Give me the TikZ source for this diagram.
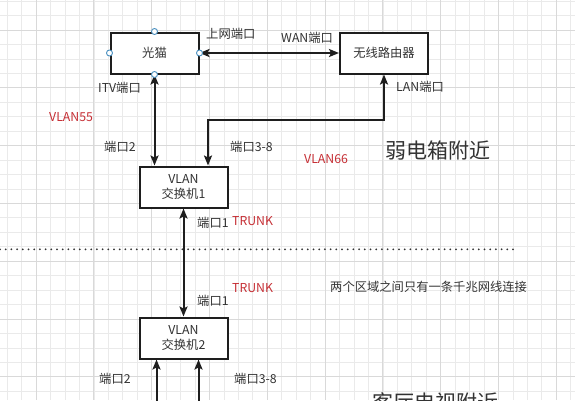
\documentclass[tikz,border=0pt]{standalone}
\usepackage{fontspec}
\setmainfont{Noto Sans CJK SC}
\usetikzlibrary{arrows.meta}
\definecolor{txt}{HTML}{333333}
\definecolor{redt}{HTML}{C62F35}
\definecolor{ln}{HTML}{1E1E1E}
\definecolor{gridminor}{HTML}{EAEAEA}
\definecolor{gridmajor}{HTML}{D9D9D9}
\definecolor{handlec}{HTML}{4A90C0}
\begin{document}
\begin{tikzpicture}[x=1pt,y=-1pt,
  box/.style={draw=ln, line width=2pt, fill=white, minimum width=88pt, minimum height=41pt,
    inner sep=0pt, font=\fontsize{12.3}{15}\selectfont, text=txt, align=center},
  lbl/.style={anchor=west, inner sep=0pt, font=\fontsize{12.3}{14}\selectfont, text=txt},
  rlbl/.style={lbl, text=redt},
  big/.style={anchor=west, inner sep=0pt, font=\fontsize{21}{24}\selectfont, text=txt},
  conn/.style={draw=ln, line width=2pt, arrows={-Stealth[length=10pt,width=8pt,inset=2pt]}},
  biconn/.style={draw=ln, line width=2pt, arrows={Stealth[length=10pt,width=8pt,inset=2pt]-Stealth[length=10pt,width=8pt,inset=2pt]}},
  hdl/.style={draw=handlec, fill=white, line width=0.9pt},
  minorgrid/.style={draw=gridminor, line width=0.6pt},
  majorgrid/.style={draw=gridmajor, line width=0.7pt},
  dotline/.style={draw=txt, line width=2pt, dash pattern=on 0pt off 5.7pt, line cap=round}
]
\useasboundingbox (0,0) rectangle (575,400);
\clip (0,0) rectangle (575,400);
\fill[white] (0,0) rectangle (575,400);
% grid
\foreach \i in {0,...,39} { \draw[minorgrid] ({7.1+\i*14.45},0) -- ({7.1+\i*14.45},400); }
\foreach \i in {0,...,27} { \draw[minorgrid] (0,{1.0+\i*14.45}) -- (575,{1.0+\i*14.45}); }
\foreach \i in {0,...,9} { \draw[majorgrid] ({36+\i*57.8},0) -- ({36+\i*57.8},400); }
\foreach \i in {0,...,6} { \draw[majorgrid] (0,{29.9+\i*57.8}) -- (575,{29.9+\i*57.8}); }

% boxes
\node[box] (gm) at (154.5,53) {光猫};
\node[box] (rt) at (384,53) {无线路由器};
\node[box] (sw1) at (183.5,187) {VLAN\\交换机1};
\node[box] (sw2) at (183.5,338) {VLAN\\交换机2};

% labels
\node[lbl] (t1) at (206,34) {上网端口};
\node[lbl] (t2) at (281,38) {WAN端口};
\node[lbl] (t3) at (98,88) {ITV端口};
\node[rlbl] (t4) at (49,117) {VLAN55};
\node[lbl] (t5) at (104,147) {端口2};
\node[lbl] (t6) at (230,147) {端口3-8};
\node[lbl] (t7) at (396,87) {LAN端口};
\node[big] (t8) at (385,150) {弱电箱附近};
\node[rlbl] (t9) at (304,159) {VLAN66};
\node[lbl] (t10) at (197,223) {端口1};
\node[rlbl] (t11) at (232,221) {TRUNK};
\node[rlbl] (t12) at (232,288) {TRUNK};
\node[lbl] (t13) at (197,301) {端口1};
\node[lbl] (t14) at (330,287) {两个区域之间只有一条千兆网线连接};
\node[lbl] (t15) at (99,379) {端口2};
\node[lbl] (t16) at (234,379) {端口3-8};
\node[big] (t17) at (372,402) {客厅电视附近};

% dotted separator
\coordinate (d1) at (0,249.3);
\coordinate (d2) at (517,249.3);
\draw[dotline] (d1) -- (d2);

% connectors
\draw[biconn] (gm.east) -- (rt.west);
\draw[biconn] (gm.south) -- (gm.south |- sw1.north);
\coordinate (c1) at (208,119.5);
\draw[biconn] (rt.south) |- (c1) -- (c1 |- sw1.north);
\draw[biconn] (sw1.south) -- (sw2.north);
\coordinate (b1) at (156.5,405);
\coordinate (b2) at (198.5,405);
\draw[conn] (b1) -- (b1 |- sw2.south);
\draw[conn] (b2) -- (b2 |- sw2.south);

% handles
\foreach \a in {north,south,east,west} { \draw[hdl] (gm.\a) circle (3pt); }
\end{tikzpicture}
\end{document}
